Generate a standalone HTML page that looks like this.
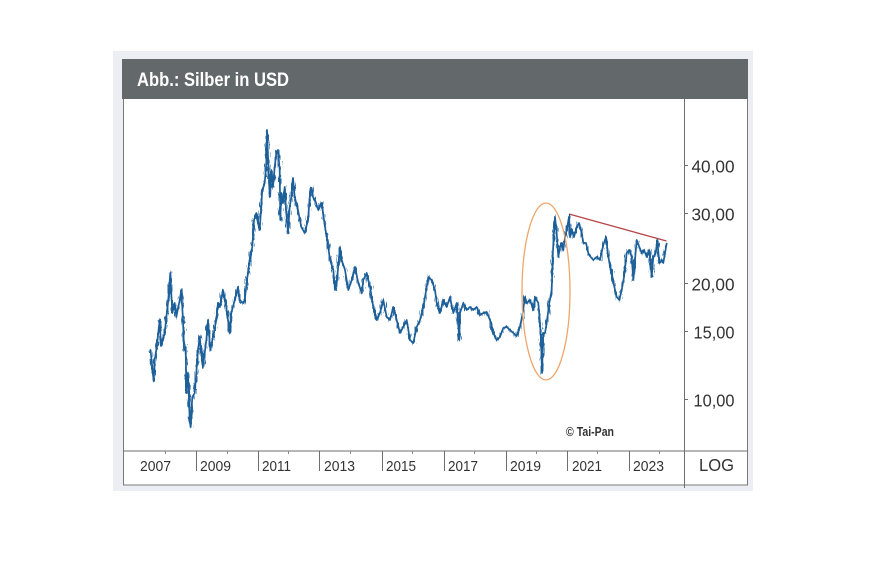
<!DOCTYPE html>
<html>
<head>
<meta charset="utf-8">
<style>
  html,body{margin:0;padding:0;background:#ffffff;}
  svg{display:block;}
  text{font-family:"Liberation Sans", Arial, sans-serif;}
</style>
</head>
<body>
<svg id="chart" width="887" height="588" viewBox="0 0 887 588" xmlns="http://www.w3.org/2000/svg">
  <defs>
    <filter id="jit" filterUnits="userSpaceOnUse" x="120" y="100" width="570" height="350">
      <feTurbulence type="fractalNoise" baseFrequency="0.9 0.12" numOctaves="2" seed="7" result="t"/>
      <feDisplacementMap in="SourceGraphic" in2="t" scale="7" xChannelSelector="R" yChannelSelector="G"/>
    </filter>
  </defs>
  <rect x="0" y="0" width="887" height="588" fill="#ffffff"/>
  <!-- outer light panel -->
  <rect x="113" y="51" width="640" height="440" fill="#eceef3"/>
  <!-- header -->
  <rect x="122" y="59" width="626" height="40" fill="#63686b"/>
  <text x="137" y="86" font-size="19" font-weight="bold" fill="#ffffff" textLength="152" lengthAdjust="spacingAndGlyphs">Abb.: Silber in USD</text>
  <!-- chart white area -->
  <rect x="123" y="99" width="624.5" height="386" fill="#ffffff"/>
  <!-- borders -->
  <line x1="123.5" y1="99" x2="123.5" y2="485.5" stroke="#7a7a7a" stroke-width="1"/>
  <line x1="747.5" y1="99" x2="747.5" y2="485.5" stroke="#7a7a7a" stroke-width="1"/>
  <line x1="123" y1="485" x2="748" y2="485" stroke="#7a7a7a" stroke-width="1"/>
  <line x1="684.5" y1="99" x2="684.5" y2="488" stroke="#6e6e6e" stroke-width="1"/>
  <line x1="123" y1="451" x2="748" y2="451" stroke="#6e6e6e" stroke-width="1"/>

  <!-- right axis ticks and labels -->
  <g stroke="#6e6e6e" stroke-width="1">
    <line x1="684" y1="165.5" x2="688" y2="165.5"/>
    <line x1="684" y1="213.5" x2="688" y2="213.5"/>
    <line x1="684" y1="283.5" x2="688" y2="283.5"/>
    <line x1="684" y1="331.5" x2="688" y2="331.5"/>
    <line x1="684" y1="399.5" x2="688" y2="399.5"/>
  </g>
  <g font-size="17.5" fill="#333333" text-anchor="end">
    <text x="734.5" y="172.5" textLength="43" lengthAdjust="spacingAndGlyphs">40,00</text>
    <text x="734.5" y="220.5" textLength="43" lengthAdjust="spacingAndGlyphs">30,00</text>
    <text x="734.5" y="290.5" textLength="43" lengthAdjust="spacingAndGlyphs">20,00</text>
    <text x="734.5" y="338.5" textLength="41" lengthAdjust="spacingAndGlyphs">15,00</text>
    <text x="734.5" y="406.5" textLength="41" lengthAdjust="spacingAndGlyphs">10,00</text>
  </g>

  <!-- x axis separators -->
  <g stroke="#6e6e6e" stroke-width="1">
    <line x1="196.5" y1="451" x2="196.5" y2="471"/>
    <line x1="258.5" y1="451" x2="258.5" y2="471"/>
    <line x1="319.5" y1="451" x2="319.5" y2="471"/>
    <line x1="382.5" y1="451" x2="382.5" y2="471"/>
    <line x1="444.5" y1="451" x2="444.5" y2="471"/>
    <line x1="506.5" y1="451" x2="506.5" y2="471"/>
    <line x1="567.5" y1="451" x2="567.5" y2="471"/>
    <line x1="629.5" y1="451" x2="629.5" y2="471"/>
  </g>
  <g stroke="#8a8a8a" stroke-width="1">
    <line x1="165.5" y1="451" x2="165.5" y2="454"/>
    <line x1="227.5" y1="451" x2="227.5" y2="454"/>
    <line x1="288.5" y1="451" x2="288.5" y2="454"/>
    <line x1="350.5" y1="451" x2="350.5" y2="454"/>
    <line x1="412.5" y1="451" x2="412.5" y2="454"/>
    <line x1="474.5" y1="451" x2="474.5" y2="454"/>
    <line x1="536.5" y1="451" x2="536.5" y2="454"/>
    <line x1="597.5" y1="451" x2="597.5" y2="454"/>
    <line x1="659.5" y1="451" x2="659.5" y2="454"/>
  </g>
  <g font-size="14.5" fill="#333333">
    <text x="140" y="471" textLength="31" lengthAdjust="spacingAndGlyphs">2007</text>
    <text x="200" y="471" textLength="31" lengthAdjust="spacingAndGlyphs">2009</text>
    <text x="262" y="471" textLength="29" lengthAdjust="spacingAndGlyphs">2011</text>
    <text x="324" y="471" textLength="31" lengthAdjust="spacingAndGlyphs">2013</text>
    <text x="386" y="471" textLength="30" lengthAdjust="spacingAndGlyphs">2015</text>
    <text x="448" y="471" textLength="30" lengthAdjust="spacingAndGlyphs">2017</text>
    <text x="510" y="471" textLength="31" lengthAdjust="spacingAndGlyphs">2019</text>
    <text x="572" y="471" textLength="30" lengthAdjust="spacingAndGlyphs">2021</text>
    <text x="633" y="471" textLength="31" lengthAdjust="spacingAndGlyphs">2023</text>
  </g>
  <text x="699" y="471" font-size="17.5" fill="#333333" textLength="35" lengthAdjust="spacingAndGlyphs">LOG</text>

  <!-- copyright -->
  <text x="566" y="436" font-size="12.5" font-weight="bold" fill="#333333" textLength="48" lengthAdjust="spacingAndGlyphs">© Tai-Pan</text>

  <!-- series -->
  <g id="srs">
  <polyline id="base" fill="none" stroke="#1d5f99" stroke-width="1.7" stroke-linejoin="round" points="149.7,353 150.5,350 153.7,381 154.7,360 156.3,350 159.7,320 161,346 164.7,333 166.3,317 168,303 170.3,273 172.3,313 174.7,303 176.3,317 179.7,300 181.3,290 183,320 184,350 185.7,347 186.3,393 188,373 189.7,420 190.7,427 192.3,397 194.7,393 196.3,373 198,350 199.7,337 203,367 206.3,340 208,320 210.3,350 213,337 216.3,320 218,303 219.7,307 223,290 226.3,307 229.7,333 231.3,313 234.7,300 238,287 239.7,300 243,303 244.7,300 247,280 249.7,260 252.3,247 254,220 256.3,213 258,223 259.7,230 262.3,190 264.7,183 266.3,163 267,130 268.3,163 269.7,197 271.3,170 273,187 274.7,167 276.3,153 278,150 279.7,170 280.3,220 281.3,193 283,203 284.7,187 286.3,213 288,233 289.7,207 291.3,197 293,178 294.7,197 298,210 301.3,227 304.7,233 308,220 310.3,190 311.7,188 313,197 315,200 318.3,210 321.7,203 325,227 327.3,240 330,260 333.3,270 335,290 336.7,283 340,247 341.7,260 345,270 348.3,290 351.7,280 355,267 358.3,283 361.7,293 363.3,280 366.7,273 370,287 373.3,307 376.7,320 380,313 383.3,300 386.7,317 390,320 393.3,307 396.7,320 400,333 403.3,327 406.7,320 410,340 413.3,343 416.7,327 420,320 423.3,307 426.7,287 428.3,277 431.7,280 435,290 436.7,303 440,313 443.3,300 446.7,307 450,297 453.3,313 456.7,303 459.3,340 460,313 463.3,303 466.7,310 470,307 473.3,310 476.7,307 480,315 483.3,313 486.7,312 490,320 493.3,333 496.7,340 500,337 503.3,328 506.7,327 510,330 513.3,333 516.7,336 520,327 522.7,313 525,297 526.7,303 530,300 533.3,310 535,297 538.3,303 540,323 541,340 542,373 543.3,333 545,333 546.7,323 549.3,303 551.7,290 552.7,257 554,230 555,217 556.7,233 558.3,257 560,247 561.7,243 563.3,250 565,237 566.7,230 569,217 570,237 571.7,230 574,237 576.7,227 579,223 581.7,233 583.3,243 586,243 588.3,253 590.7,257 593.3,260 596.7,257 600,260 603.3,245 606,237 608.3,257 611.7,273 615,290 616.7,297 619.3,300 621.7,290 624,277 626.7,253 629.3,250 631.7,257 633.3,280 636.7,240 639.3,247 641.7,253 644,250 646.7,257 649.3,250 651.7,277 653.3,257 655.7,253 657.3,240 659.3,263 661.7,260 663.3,263 665,253 666.7,243"/>
  </g>
  <use href="#base" filter="url(#jit)" opacity="0.95"/>

  <!-- annotations -->
  <ellipse cx="546" cy="291.5" rx="24" ry="88.5" fill="none" stroke="#eea66c" stroke-width="1.3"/>
  <line x1="569" y1="214" x2="666.5" y2="241" stroke="#b5474a" stroke-width="1.3"/>
  <line x1="569.5" y1="214" x2="569.5" y2="222" stroke="#1a5e9a" stroke-width="1.2"/>
</svg>
</body>
</html>
